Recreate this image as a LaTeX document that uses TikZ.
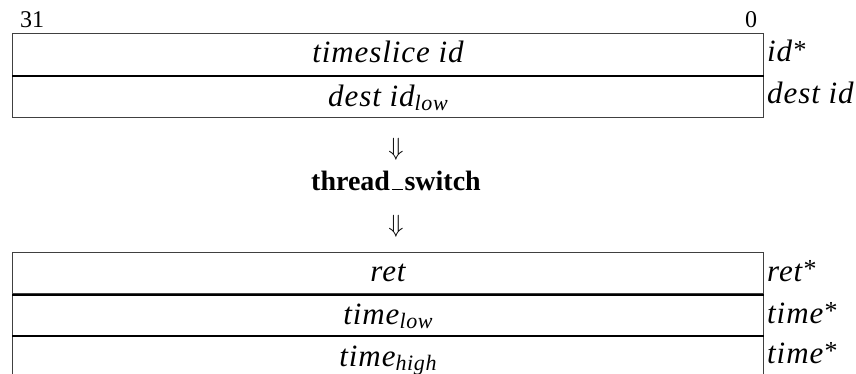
\documentclass[tikz,border=0pt]{standalone}
\usepackage{fontspec}
\setmainfont{Liberation Serif}
% spaced italic, in the manner of math-set identifiers
\newcommand{\ident}{\fontsize{31}{34}\selectfont\itshape\addfontfeature{LetterSpace=3}}
\newcommand{\lowsub}[1]{\raisebox{-4pt}{\fontsize{22}{22}\selectfont #1}}
\newcommand{\starmark}{{\fontsize{26}{26}\selectfont\raisebox{0.12em}{*}}}
\newcommand{\lowbar}{\kern0.06em\rule[-0.3pt]{0.42em}{1.5pt}\kern0.04em}
\begin{document}
\begin{tikzpicture}[x=1pt,y=-1pt,
  field/.style={draw=black!75, line width=1pt, minimum width=751pt, minimum height=42pt,
    inner sep=0pt, anchor=north west, text height=20pt, text depth=4pt, font=\ident},
  subrow/.style={text depth=0pt},
  sepline/.style={black, line width=2.2pt},
  side/.style={anchor=base west, inner sep=0pt, font=\ident},
  bitnum/.style={anchor=base, inner sep=0pt, font=\fontsize{24}{27}\selectfont},
  flow/.style={inner sep=0pt, font=\fontsize{25}{28}\selectfont},
  call/.style={inner sep=0pt, font=\fontsize{28}{31}\selectfont\bfseries}]
\useasboundingbox (0,0) rectangle (856,374);
\clip (0,0) rectangle (856,374);

% bit numbering
\node[bitnum] (b31) at (32,28) {31};
\node[bitnum] (b0) at (751,28) {0};

% argument registers before the call
\node[field] (a1) at (12,33) {timeslice id};
\node[field, subrow] (a2) at (12,75) {dest id\lowsub{low}};
\draw[sepline] (a1.south west) -- (a1.south east);
\node[side] (s1) at (767,62) {id\starmark};
\node[side] (s2) at (767,104) {dest id};

% the system call
\node[flow] (d1) at (396,149) {$\Downarrow$};
\node[call, anchor=base] (ts) at (396,190) {thread\lowbar switch};
\node[flow] (d2) at (396,226) {$\Downarrow$};

% result registers after the call
\node[field] (r1) at (12,252) {ret};
\node[field, subrow] (r2) at (12,293) {time\lowsub{low}};
\node[field, subrow] (r3) at (12,335) {time\lowsub{high}};
\draw[sepline] (r1.south west) -- (r1.south east);
\draw[sepline] (r2.south west) -- (r2.south east);
\node[side] (t1) at (767,281) {ret\starmark};
\node[side] (t2) at (767,323) {time\starmark};
\node[side] (t3) at (767,363) {time\starmark};
\end{tikzpicture}
\end{document}
